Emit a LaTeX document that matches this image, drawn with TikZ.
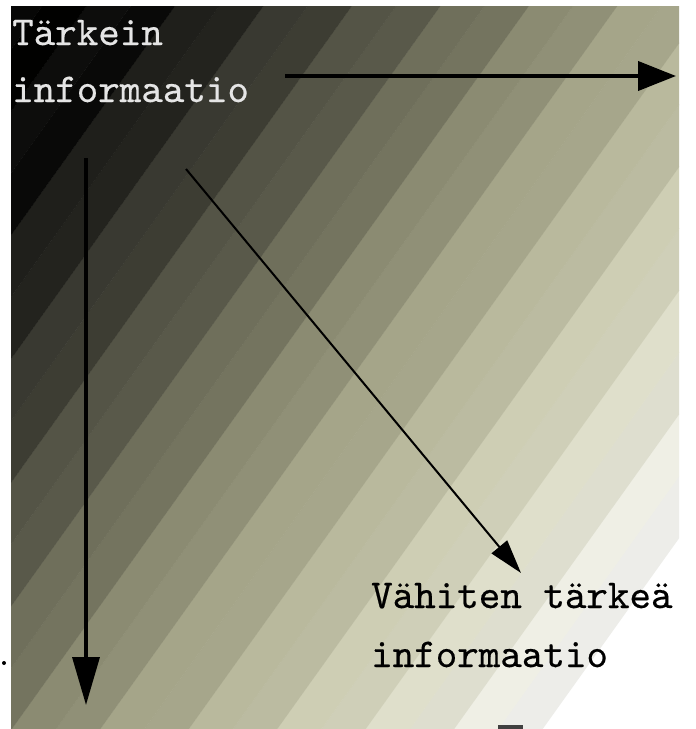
\documentclass[tikz,border=0pt]{standalone}
\usepackage{fontspec}
\usetikzlibrary{arrows.meta}
\newfontfamily\courfont[FakeBold=0.4]{lmmono10-regular.otf}
\tikzset{
  lbl/.style={anchor=base west, inner sep=0pt, font=\courfont\fontsize{41}{41}\selectfont},
  toplbl/.style={lbl, text=white!90!black},
  botlbl/.style={lbl, text=black},
  arr/.style={draw=black},
}
\begin{document}
\begin{tikzpicture}[x=1pt,y=-1pt]
\useasboundingbox (0,0) rectangle (696,729);
\fill[white] (0,0) rectangle (696,729);
% background: banded gradient
\begin{scope}
\clip (11,6) rectangle (679,729);
\foreach \tc/\v [count=\i] in {848/241,812/234,776/226,740/218,704/211,668/201,632/191,596/180,560/170,524/160,488/148,452/134,416/120,380/106,344/93,308/79,272/65,236/52,200/39,164/26,128/13,92/8,56/5,20/2} {
  \pgfmathsetmacro\ta{\tc-18.3}
  \pgfmathsetmacro\tb{\tc+18}
  \pgfmathsetmacro\s{\tc/866}
  \pgfmathsetmacro\alt{ifthenelse(mod(\i,2)==0,5,-4)}
  \pgfmathtruncatemacro\r{max(0,min(255,\v+\alt))}
  \pgfmathtruncatemacro\bl{max(0,min(255,(\v+\alt)*(1-0.7*\s*(1-\s))))}
  \definecolor{bandc}{RGB}{\r,\r,\bl}
  \fill[bandc] ({(\ta+0.582*50)/0.814},-50) -- ({(\tb+0.582*50)/0.814},-50)
     -- ({(\tb-0.582*800)/0.814},800) -- ({(\ta-0.582*800)/0.814},800) -- cycle;
}
\end{scope}
% small marks
\fill[black] (4,663) circle[radius=2];
\fill[black!75] (498,725) rectangle (523,729);
% labels
\node[toplbl] (t1) at (12,45) {Tärkein};
\node[toplbl] (t2) at (12,102) {informaatio};
\node[botlbl] (b1) at (371,608) {Vähiten tärkeä};
\node[botlbl] (b2) at (371,667) {informaatio};
% arrows
\coordinate (hs) at (285,76);
\coordinate (he) at (676,76);
\coordinate (vs) at (86,158);
\coordinate (ve) at (86,705);
\coordinate (ds) at (186,169);
\coordinate (de) at (521,573);
\draw[arr, line width=4pt, -{Triangle[length=38pt,width=29pt]}] (hs) -- (he);
\draw[arr, line width=3.5pt, -{Triangle[length=48pt,width=27pt]}] (vs) -- (ve);
\draw[arr, line width=2pt, -{Triangle[length=34pt,width=20pt]}] (ds) -- (de);
\end{tikzpicture}
\end{document}
